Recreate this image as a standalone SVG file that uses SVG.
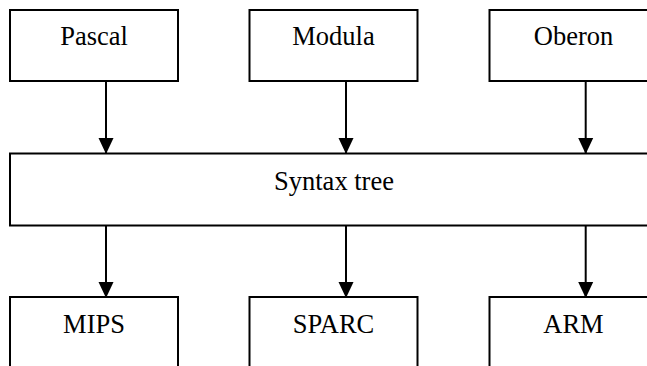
<svg xmlns="http://www.w3.org/2000/svg" width="647" height="366" viewBox="0 0 647 366">
<style>
.box{fill:#fff;stroke:#000;stroke-width:2}
.lbl{font-family:"Liberation Serif","Times New Roman",serif;font-size:26.5px;fill:#000;text-anchor:middle}
.conn{stroke:#000;stroke-width:2;fill:none;marker-end:url(#ah)}
</style>
<defs>
<marker id="ah" markerUnits="userSpaceOnUse" markerWidth="16" markerHeight="17" refX="15" refY="7.5" orient="auto" viewBox="0 0 16 15">
<path d="M0,0 L16,7.5 L0,15 Z" fill="#000"/>
</marker>
</defs>
<rect width="647" height="366" fill="#fff"/>
<g id="pascal"><rect class="box" x="10" y="10" width="168" height="71"/><text class="lbl" x="94" y="45">Pascal</text></g>
<g id="modula"><rect class="box" x="249.5" y="10" width="168" height="71"/><text class="lbl" x="333.5" y="45">Modula</text></g>
<g id="oberon"><rect class="box" x="489.5" y="10" width="168" height="71"/><text class="lbl" x="573.5" y="45">Oberon</text></g>
<g id="syntax"><rect class="box" x="10" y="153.5" width="648" height="72"/><text class="lbl" x="334" y="189.5">Syntax tree</text></g>
<g id="mips"><rect class="box" x="10" y="297" width="168" height="80"/><text class="lbl" x="94" y="333">MIPS</text></g>
<g id="sparc"><rect class="box" x="249.5" y="297" width="168" height="80"/><text class="lbl" x="333.5" y="333">SPARC</text></g>
<g id="arm"><rect class="box" x="489.5" y="297" width="168" height="80"/><text class="lbl" x="573.5" y="333">ARM</text></g>
<g id="connectors">
<line class="conn" x1="106" y1="81" x2="106" y2="153"/>
<line class="conn" x1="346" y1="81" x2="346" y2="153"/>
<line class="conn" x1="585.7" y1="81" x2="585.7" y2="153"/>
<line class="conn" x1="106" y1="225.5" x2="106" y2="297"/>
<line class="conn" x1="346" y1="225.5" x2="346" y2="297"/>
<line class="conn" x1="585.7" y1="225.5" x2="585.7" y2="297"/>
</g>
</svg>
